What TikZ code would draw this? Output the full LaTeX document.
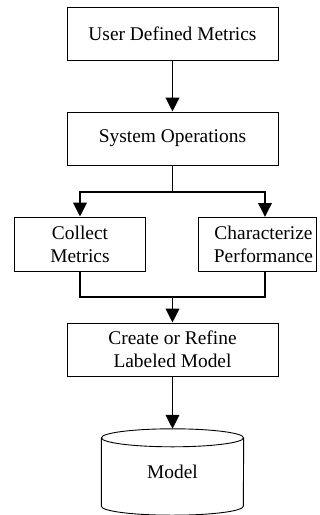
\documentclass[tikz,border=0pt]{standalone}
\usepackage{fontspec}
\setmainfont{Liberation Serif}
\usetikzlibrary{arrows.meta}
\begin{document}
\begin{tikzpicture}[x=1pt,y=-1pt,
  box/.style={draw, line width=0.9pt, inner sep=0pt, align=center, font=\fontsize{19.4}{23}\selectfont},
  conn/.style={line width=1.9pt},
  arr/.style={conn, -{Triangle[width=13.5pt,length=14pt]}},
  cyl/.style={line width=0.9pt}]
\useasboundingbox (0,0) rectangle (320,515);
\node[box, minimum width=211pt, minimum height=53pt] (udm) at (172.5,33.5) {User Defined Metrics};
\node[box, minimum width=211pt, minimum height=53pt] (sys) at (172.5,138.5) {System Operations};
\node[box, minimum width=131pt, minimum height=54pt] (col) at (80,244) {Collect\\Metrics};
\node[box, minimum width=118pt, minimum height=54pt] (chr) at (257,244) {\hspace*{13pt}Characterize\\\hspace*{13pt}Performance};
\node[box, minimum width=211pt, minimum height=53pt] (cre) at (172.5,349.5) {Create or Refine\\Labeled Model};
\node[inner sep=0pt, minimum width=142pt, minimum height=86pt, font=\fontsize{19.4}{23}\selectfont] (mod) at (172.5,472) {Model};
% cylinder outline
\draw[cyl] ([yshift=-9pt]mod.north) ellipse [x radius=71pt, y radius=9pt];
\draw[cyl] ([yshift=-9pt]mod.north west) -- ([yshift=9pt]mod.south west)
  arc [start angle=180, end angle=360, x radius=71pt, y radius=9pt]
  -- ([yshift=-9pt]mod.north east);
% connectors
\coordinate (j1) at (172.5,192);
\coordinate (j2) at (172.5,297);
\coordinate (ct) at (265,217);
\coordinate (cb) at (265,271);
\draw[arr] (udm) -- (sys);
\draw[conn] (sys.south) -- (j1);
\draw[arr] (j1) -| (col.north);
\draw[arr] (j1) -| (ct);
\draw[conn] (col.south) |- (j2);
\draw[conn] (cb) |- (j2);
\draw[arr] (j2) -- (cre.north);
\draw[arr] (cre.south) -- (mod.north);
\end{tikzpicture}
\end{document}
